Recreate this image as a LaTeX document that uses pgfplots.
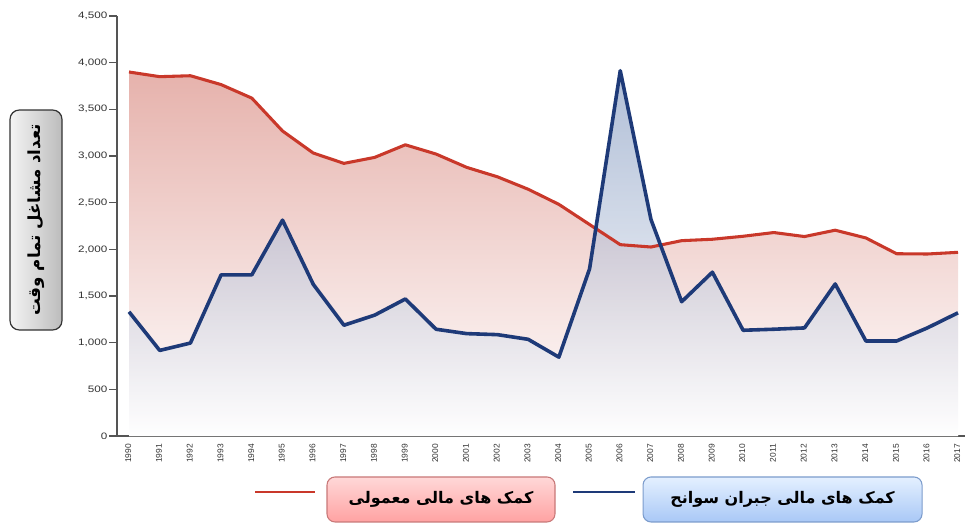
\documentclass[border=0pt]{standalone}
\usepackage{fontspec}
\setmainfont{Liberation Sans}
\newfontfamily\widefont[FakeStretch=1.25]{Liberation Sans}
\newfontfamily\arabicfont[Script=Arabic]{DejaVu Sans}
\usepackage{pgfplots}
\usepackage{pgfplotstable}
\pgfplotsset{compat=1.18}
\TeXXeTstate=1
\definecolor{redline}{HTML}{C9382A}
\definecolor{blueline}{HTML}{1E3A78}
\definecolor{redtop}{HTML}{E6B2AC}
\definecolor{bluetop}{HTML}{7890BA}
\definecolor{axisgray}{HTML}{555555}
\definecolor{labelgray}{HTML}{333333}
\definecolor{boxlight}{HTML}{F4F4F4}
\definecolor{boxdark}{HTML}{BCBCBC}
\definecolor{boxborder}{HTML}{333333}
\definecolor{redboxtop}{HTML}{FFD8D8}
\definecolor{redboxbot}{HTML}{FFA2A2}
\definecolor{redborder}{HTML}{C87878}
\definecolor{blueboxtop}{HTML}{E4F0FF}
\definecolor{blueboxbot}{HTML}{A9C8F6}
\definecolor{blueborder}{HTML}{7C9CCC}

\pgfplotstableread{
year regular disaster
1990 3900 1331
1991 3850 917
1992 3860 996
1993 3765 1727
1994 3620 1727
1995 3268 2313
1996 3032 1626
1997 2921 1187
1998 2985 1295
1999 3120 1468
2000 3021 1144
2001 2878 1097
2002 2777 1086
2003 2644 1036
2004 2482 845
2005 2266 1791
2006 2050 3914
2007 2025 2320
2008 2093 1439
2009 2108 1755
2010 2140 1133
2011 2180 1144
2012 2137 1158
2013 2205 1629
2014 2122 1018
2015 1953 1018
2016 1950 1158
2017 1968 1320
}\datatable

\begin{document}
\begin{tikzpicture}
\useasboundingbox (0,0) rectangle (726.75pt,394.5pt);
\begin{axis}[
  at={(87.75pt,67.5pt)}, anchor=south west,
  scale only axis, width=636pt, height=315pt,
  xmin=1989.609, xmax=2017.228, ymin=0, ymax=4500,
  axis x line*=bottom, axis y line*=left,
  axis line style={axisgray, line width=1.4pt, -},
  ytick={0,500,...,4500},
  xtick={1990,...,2017},
  minor xtick={1990.5,1991.5,...,2016.5},
  major x tick style={draw=none},
  minor x tick style={axisgray, line width=0.8pt, yshift=4.5pt},
  major y tick style={axisgray, line width=0.8pt},
  tick align=outside,
  major tick length=6pt,
  minor tick length=4.5pt,
  scaled y ticks=false,
  /pgf/number format/assume math mode=true,
  /pgf/number format/1000 sep={,},
  yticklabel style={font=\widefont\fontsize{7}{8}\selectfont, text=labelgray, inner sep=1pt},
  xticklabel style={font=\fontsize{6.3}{7}\selectfont, text=labelgray, rotate=90, anchor=east, inner sep=0pt, yshift=0.5pt},
  xticklabel={\pgfmathprintnumber[1000 sep={}]{\tick}},
  clip=false,
]
\addplot[draw=none, top color=redtop, bottom color=white, forget plot]
  table[x=year, y=regular] {\datatable} \closedcycle;
\addplot[draw=none, top color=bluetop, bottom color=white, fill opacity=0.58, forget plot]
  table[x=year, y=disaster] {\datatable} \closedcycle;
\addplot[redline, line width=2.3pt, line join=round]
  table[x=year, y=regular] {\datatable};
\addplot[blueline, line width=2.7pt, line join=round]
  table[x=year, y=disaster] {\datatable};
\end{axis}

% y axis title box
\node[rotate=90, draw=boxborder, line width=0.9pt, rounded corners=7pt,
      shading angle=90, left color=boxlight, right color=boxdark,
      minimum width=165pt, minimum height=39pt, inner sep=0pt]
  at (27pt,229.5pt) {\arabicfont\bfseries\fontsize{12.5}{14}\selectfont\beginR تعداد مشاغل تمام وقت\endR};

% legend
\draw[redline, line width=2pt] (191.25pt,25.5pt) -- (236.25pt,25.5pt);
\node[draw=redborder, line width=0.8pt, rounded corners=6pt,
      top color=redboxtop, bottom color=redboxbot,
      minimum width=171pt, minimum height=33.75pt, inner sep=0pt]
  at (330.75pt,19.9pt) {\arabicfont\bfseries\fontsize{12}{14}\selectfont\beginR کمک های مالی معمولی\endR};
\draw[blueline, line width=2pt] (429.75pt,25.5pt) -- (476.25pt,25.5pt);
\node[draw=blueborder, line width=0.8pt, rounded corners=6pt,
      top color=blueboxtop, bottom color=blueboxbot,
      minimum width=209.25pt, minimum height=33.75pt, inner sep=0pt]
  at (586.9pt,19.9pt) {\arabicfont\bfseries\fontsize{12}{14}\selectfont\beginR کمک های مالی جبران سوانح\endR};
\end{tikzpicture}
\end{document}
